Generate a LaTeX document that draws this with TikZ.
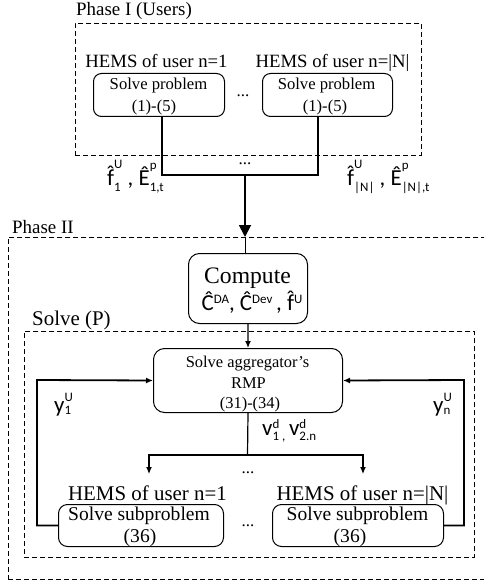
\documentclass[tikz,border=0pt]{standalone}
\usepackage{fontspec}
\setmainfont{Liberation Serif}
\newfontfamily\carl{Carlito}
\usetikzlibrary{arrows.meta}
\newcommand\fsz[1]{\fontsize{#1}{#1}\selectfont}
\newcommand\scr{\fontsize{13}{13}\selectfont}
% base with sup (raised #1) and sub (lowered #2)
\newcommand\ssx[4]{%
  \setbox1\hbox{\scr #3}\setbox2\hbox{\scr #4}%
  \dimen0=\wd1 \ifdim\wd2>\dimen0 \dimen0=\wd2 \fi
  \rlap{\raisebox{#1}{\box1}}\rlap{\raisebox{-#2}{\box2}}\hspace{\dimen0}}
\newcommand\supx[2]{\raisebox{#1}{\scr #2}}
\newcommand\hatf{\ooalign{f\cr\hidewidth\raisebox{0.16em}{ˆ}\hidewidth\cr}}
\begin{document}
\begin{tikzpicture}[x=1bp,y=-1bp,
  phase/.style={draw,line width=0.9bp,dash pattern=on 5bp off 3bp,inner sep=0,anchor=north west},
  rbox/.style={draw,line width=1bp,inner sep=0,anchor=north west},
  lbl/.style={inner sep=0,anchor=base},
  lblw/.style={inner sep=0,anchor=base west},
  sans/.style={inner sep=0,anchor=base west,font=\carl\fsz{23}},
  conn/.style={line width=1.8bp},
  thin/.style={line width=1.2bp},
  big/.style={-{Triangle[length=12bp,width=12bp]}},
  small/.style={-{Latex[length=7bp,width=6bp]}}]
\clip (0,0) rectangle (484,584);

% dashed regions
\node[phase,minimum width=346bp,minimum height=132bp] (ph1) at (75,23) {};
\node[phase,minimum width=480bp,minimum height=342bp] (ph2) at (8,237) {};
\node[phase,minimum width=450bp,minimum height=226bp] (sp) at (24,331) {};

\node[lblw,font=\fsz{19}] (lab1) at (76,16) {Phase I (Users)};
\node[lblw,font=\fsz{19}] (lab2) at (12,233) {Phase II};
\node[lblw,font=\fsz{21}] (lab3) at (32,325) {Solve (P)};

% Phase I users
\node[lbl,font=\fsz{18.8}] (h1) at (156.5,68) {HEMS of user n=1};
\node[lbl,font=\fsz{18.8}] (h2) at (332.5,68) {HEMS of user n=|N|};
\node[rbox,rounded corners=8bp,minimum width=131bp,minimum height=43bp] (u1) at (93,73) {};
\node[rbox,rounded corners=8bp,minimum width=130bp,minimum height=43bp] (u2) at (262,73) {};
\node[lbl,font=\fsz{16.7}] (u1a) at (158.5,90) {Solve problem};
\node[lbl,font=\fsz{16.7}] (u1b) at (154,112) {(1)-(5)};
\node[lbl,font=\fsz{16.7}] (u2a) at (326.5,90) {Solve problem};
\node[lbl,font=\fsz{16.7}] (u2b) at (325,112) {(1)-(5)};
\node[lbl,font=\fsz{17}] (d1) at (243,97) {...};

\coordinate (j1) at (162,175);
\coordinate (j2) at (318,175);
\coordinate (jm) at (245,175);
\draw[conn] (u1.south -| j1) -- (j1) -- (j2) -- (u2.south -| j2);
\node[lbl,font=\fsz{17}] (d2) at (245,165) {...};
\draw[conn,big] (jm) -- (jm |- ph2.north);
\draw[line width=1bp] (jm |- ph2.north) -- (jm |- 0,253);

\node[sans] (fl1) at (107,185) {\hatf\ssx{0.72em}{0.3em}{U}{1}\ , \^E\ssx{0.66em}{0.3em}{p}{1,t}};
\node[sans] (fl2) at (347,185) {\hatf\ssx{0.72em}{0.3em}{U}{|N|}\ , \^E\ssx{0.66em}{0.3em}{p}{|N|,t}};

% Phase II
\node[rbox,rounded corners=11bp,minimum width=119bp,minimum height=70bp] (c) at (188,253) {};
\node[lbl,font=\fsz{23.7}] (ca) at (247.5,283) {Compute};
\node[lbl,font=\carl\fsz{23}] (cb) at (252,310) {\^C\supx{0.3em}{DA}, \^C\supx{0.3em}{Dev}\,, \hatf\supx{0.3em}{U}};

\node[rbox,rounded corners=11bp,minimum width=189bp,minimum height=64bp] (r) at (153,348) {};
\node[lbl,font=\fsz{16.5}] (ra) at (247.5,367) {Solve aggregator’s};
\node[lbl,font=\fsz{16.5}] (rb) at (248.5,388) {RMP};
\node[lbl,font=\fsz{16.5}] (rc) at (250,408) {(31)-(34)};
\draw[line width=1.3bp,small] (c.south) -- (r.north);

\node[lbl,font=\fsz{21}] (h3) at (147.5,500) {HEMS of user n=1};
\node[lbl,font=\fsz{21}] (h4) at (362.5,500) {HEMS of user n=|N|};
\node[rbox,rounded corners=9bp,minimum width=165bp,minimum height=42bp] (s1) at (58,504) {};
\node[rbox,rounded corners=9bp,minimum width=171bp,minimum height=42bp] (s2) at (272,504) {};
\node[lbl,font=\fsz{19.6}] (s1a) at (139,520) {Solve subproblem};
\node[lbl,font=\fsz{19.6}] (s1b) at (140,542) {(36)};
\node[lbl,font=\fsz{19.6}] (s2a) at (357.5,520) {Solve subproblem};
\node[lbl,font=\fsz{19.6}] (s2b) at (350,542) {(36)};
\node[lbl,font=\fsz{17}] (d3) at (248,526) {...};
\node[lbl,font=\fsz{17}] (d4) at (248,473) {...};

% loops
\coordinate (lx) at (37,380);
\coordinate (rx) at (464,380);
\draw[conn,small] (s1.west) -| (lx) -- (r.west);
\draw[conn,small] (s2.east) -| (rx) -- (r.east);
\node[sans] (y1) at (54,412) {y\ssx{0.45em}{0.12em}{U}{1}};
\node[sans] (yn) at (433,412) {y\ssx{0.45em}{0.12em}{U}{n}};

% down branch
\coordinate (bm) at (247.5,455);
\coordinate (bl) at (149,455);
\coordinate (br) at (363,455);
\coordinate (bl2) at (149,474);
\coordinate (br2) at (363,474);
\draw[thin] (r.south) -- (bm);
\draw[thin,small] (bm) -- (bl) -- (bl2);
\draw[thin,small] (bm) -- (br) -- (br2);
\node[sans] (vl) at (262,435) {v\ssx{0.3em}{0.22em}{d}{1 ,}\,v\ssx{0.3em}{0.22em}{d}{2.n}};
\end{tikzpicture}
\end{document}
